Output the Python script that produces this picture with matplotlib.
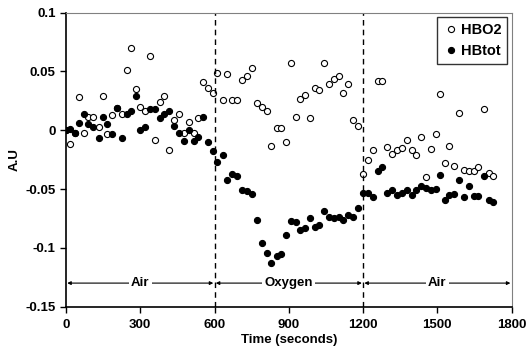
import matplotlib
matplotlib.use("Agg")
import matplotlib.pyplot as plt

plt.rcParams['font.family'] = ['Liberation Sans', 'DejaVu Sans']
plt.rcParams['font.weight'] = 'bold'

# time of each sample (s)
time_s = [0, 16, 35, 54, 73, 90, 110, 132, 148, 167, 187, 205, 225, 245, 263,
          283, 300, 319, 339, 360, 380, 397, 416, 438, 458, 477, 497, 516, 535,
          555, 575, 594, 611, 633, 652, 672, 692, 712, 733, 753, 771, 791, 811,
          829, 851, 869, 889, 908, 928, 945, 966, 985, 1005, 1023, 1044, 1063,
          1083, 1102, 1120, 1141, 1161, 1181, 1201, 1221, 1242, 1259, 1278,
          1298, 1318, 1336, 1356, 1377, 1397, 1414, 1433, 1453, 1474, 1495,
          1511, 1531, 1549, 1569, 1588, 1608, 1627, 1646, 1666, 1687, 1707, 1726]

hbo2 = [0.000, -0.012, -0.002, 0.028, -0.002, 0.011, 0.011, 0.003, 0.029, -0.003,
        0.013, 0.019, 0.014, 0.051, 0.070, 0.035, 0.020, 0.016, 0.063, -0.008,
        0.024, 0.029, -0.017, 0.009, 0.014, -0.002, 0.007, -0.002, 0.010, 0.041,
        0.036, 0.032, 0.049, 0.026, 0.048, 0.026, 0.026, 0.043, 0.046, 0.053,
        0.023, 0.020, 0.016, -0.013, 0.002, 0.002, -0.010, 0.057, 0.011, 0.027,
        0.030, 0.010, 0.036, 0.034, 0.057, 0.039, 0.044, 0.046, 0.032, 0.039,
        0.009, 0.004, -0.037, -0.025, -0.017, 0.042, 0.042, -0.014, -0.020, -0.017,
        -0.015, -0.008, -0.017, -0.021, -0.006, -0.040, -0.016, -0.003, 0.031, -0.028,
        -0.013, -0.030, 0.015, -0.034, -0.035, -0.035, -0.031, 0.018, -0.036, -0.039]

hbtot = [0.000, 0.001, -0.002, 0.006, 0.014, 0.005, 0.003, -0.007, 0.011, 0.005,
         -0.003, 0.019, -0.007, 0.014, 0.016, 0.029, 0.000, 0.003, 0.018, 0.018,
         0.010, 0.014, 0.016, 0.004, -0.002, -0.009, 0.000, -0.009, -0.006, 0.011,
         -0.010, -0.018, -0.027, -0.021, -0.042, -0.037, -0.039, -0.051, -0.052, -0.054,
         -0.076, -0.096, -0.104, -0.113, -0.107, -0.105, -0.089, -0.077, -0.078, -0.085,
         -0.083, -0.075, -0.082, -0.081, -0.069, -0.074, -0.075, -0.074, -0.076, -0.072,
         -0.074, -0.066, -0.053, -0.053, -0.057, -0.035, -0.031, -0.053, -0.051, -0.055,
         -0.053, -0.051, -0.055, -0.051, -0.047, -0.049, -0.051, -0.050, -0.038, -0.059,
         -0.055, -0.054, -0.042, -0.057, -0.047, -0.056, -0.056, -0.039, -0.059, -0.061]

phase_edges = [0, 600, 1200, 1800]
phase_names = ["Air", "Oxygen", "Air"]

fig = plt.figure(figsize=(5.28, 3.62), dpi=100)
ax = fig.add_axes([0.125, 0.153, 0.844, 0.812])

ax.plot(time_s, hbo2, 'o', ms=4.4, mfc='white', mec='black', mew=0.8, label='HBO2')
ax.plot(time_s, hbtot, 'o', ms=4.4, mfc='black', mec='black', mew=0.8, label='HBtot')

for x in phase_edges[1:-1]:
    ax.axvline(x, color='black', ls=(0, (4, 3)), lw=1)

# phase arrows
for i, name in enumerate(phase_names):
    a, b = phase_edges[i], phase_edges[i + 1]
    ax.annotate('', xy=(a + 5, -0.13), xytext=(b - 5, -0.13),
                arrowprops=dict(arrowstyle='<|-|>', color='black', lw=0.8,
                                mutation_scale=5, shrinkA=0, shrinkB=0))
    ax.text((a + b) / 2, -0.13, name, ha='center', va='center', fontsize=9.5,
            fontweight='bold', bbox=dict(fc='white', ec='none', pad=1.5))

ax.set_xlim(0, 1800)
ax.set_ylim(-0.15, 0.1)
ax.set_xticks([0, 300, 600, 900, 1200, 1500, 1800])
ax.set_yticks([-0.15, -0.1, -0.05, 0, 0.05, 0.1])
ax.set_yticklabels(['-0.15', '-0.1', '-0.05', '0', '0.05', '0.1'])
ax.tick_params(direction='out', length=4, width=1, labelsize=9.5)
ax.tick_params(axis='x', pad=5)
ax.set_xlabel('Time (seconds)', fontsize=9.5, fontweight='bold', labelpad=2)
ax.set_ylabel('A.U', fontsize=9.5, fontweight='bold', labelpad=3)

for s in ['top', 'right']:
    ax.spines[s].set_color('#808080')
for s in ['left', 'bottom']:
    ax.spines[s].set_color('black')
    ax.spines[s].set_linewidth(1.2)

leg = ax.legend(loc='upper right', fontsize=10.5, frameon=True, fancybox=False,
                edgecolor='black', handletextpad=0.2, handlelength=1.0,
                borderaxespad=0.3, labelspacing=0.5, borderpad=0.4)
leg.get_frame().set_linewidth(1)

fig.savefig('out.png', dpi=100)
